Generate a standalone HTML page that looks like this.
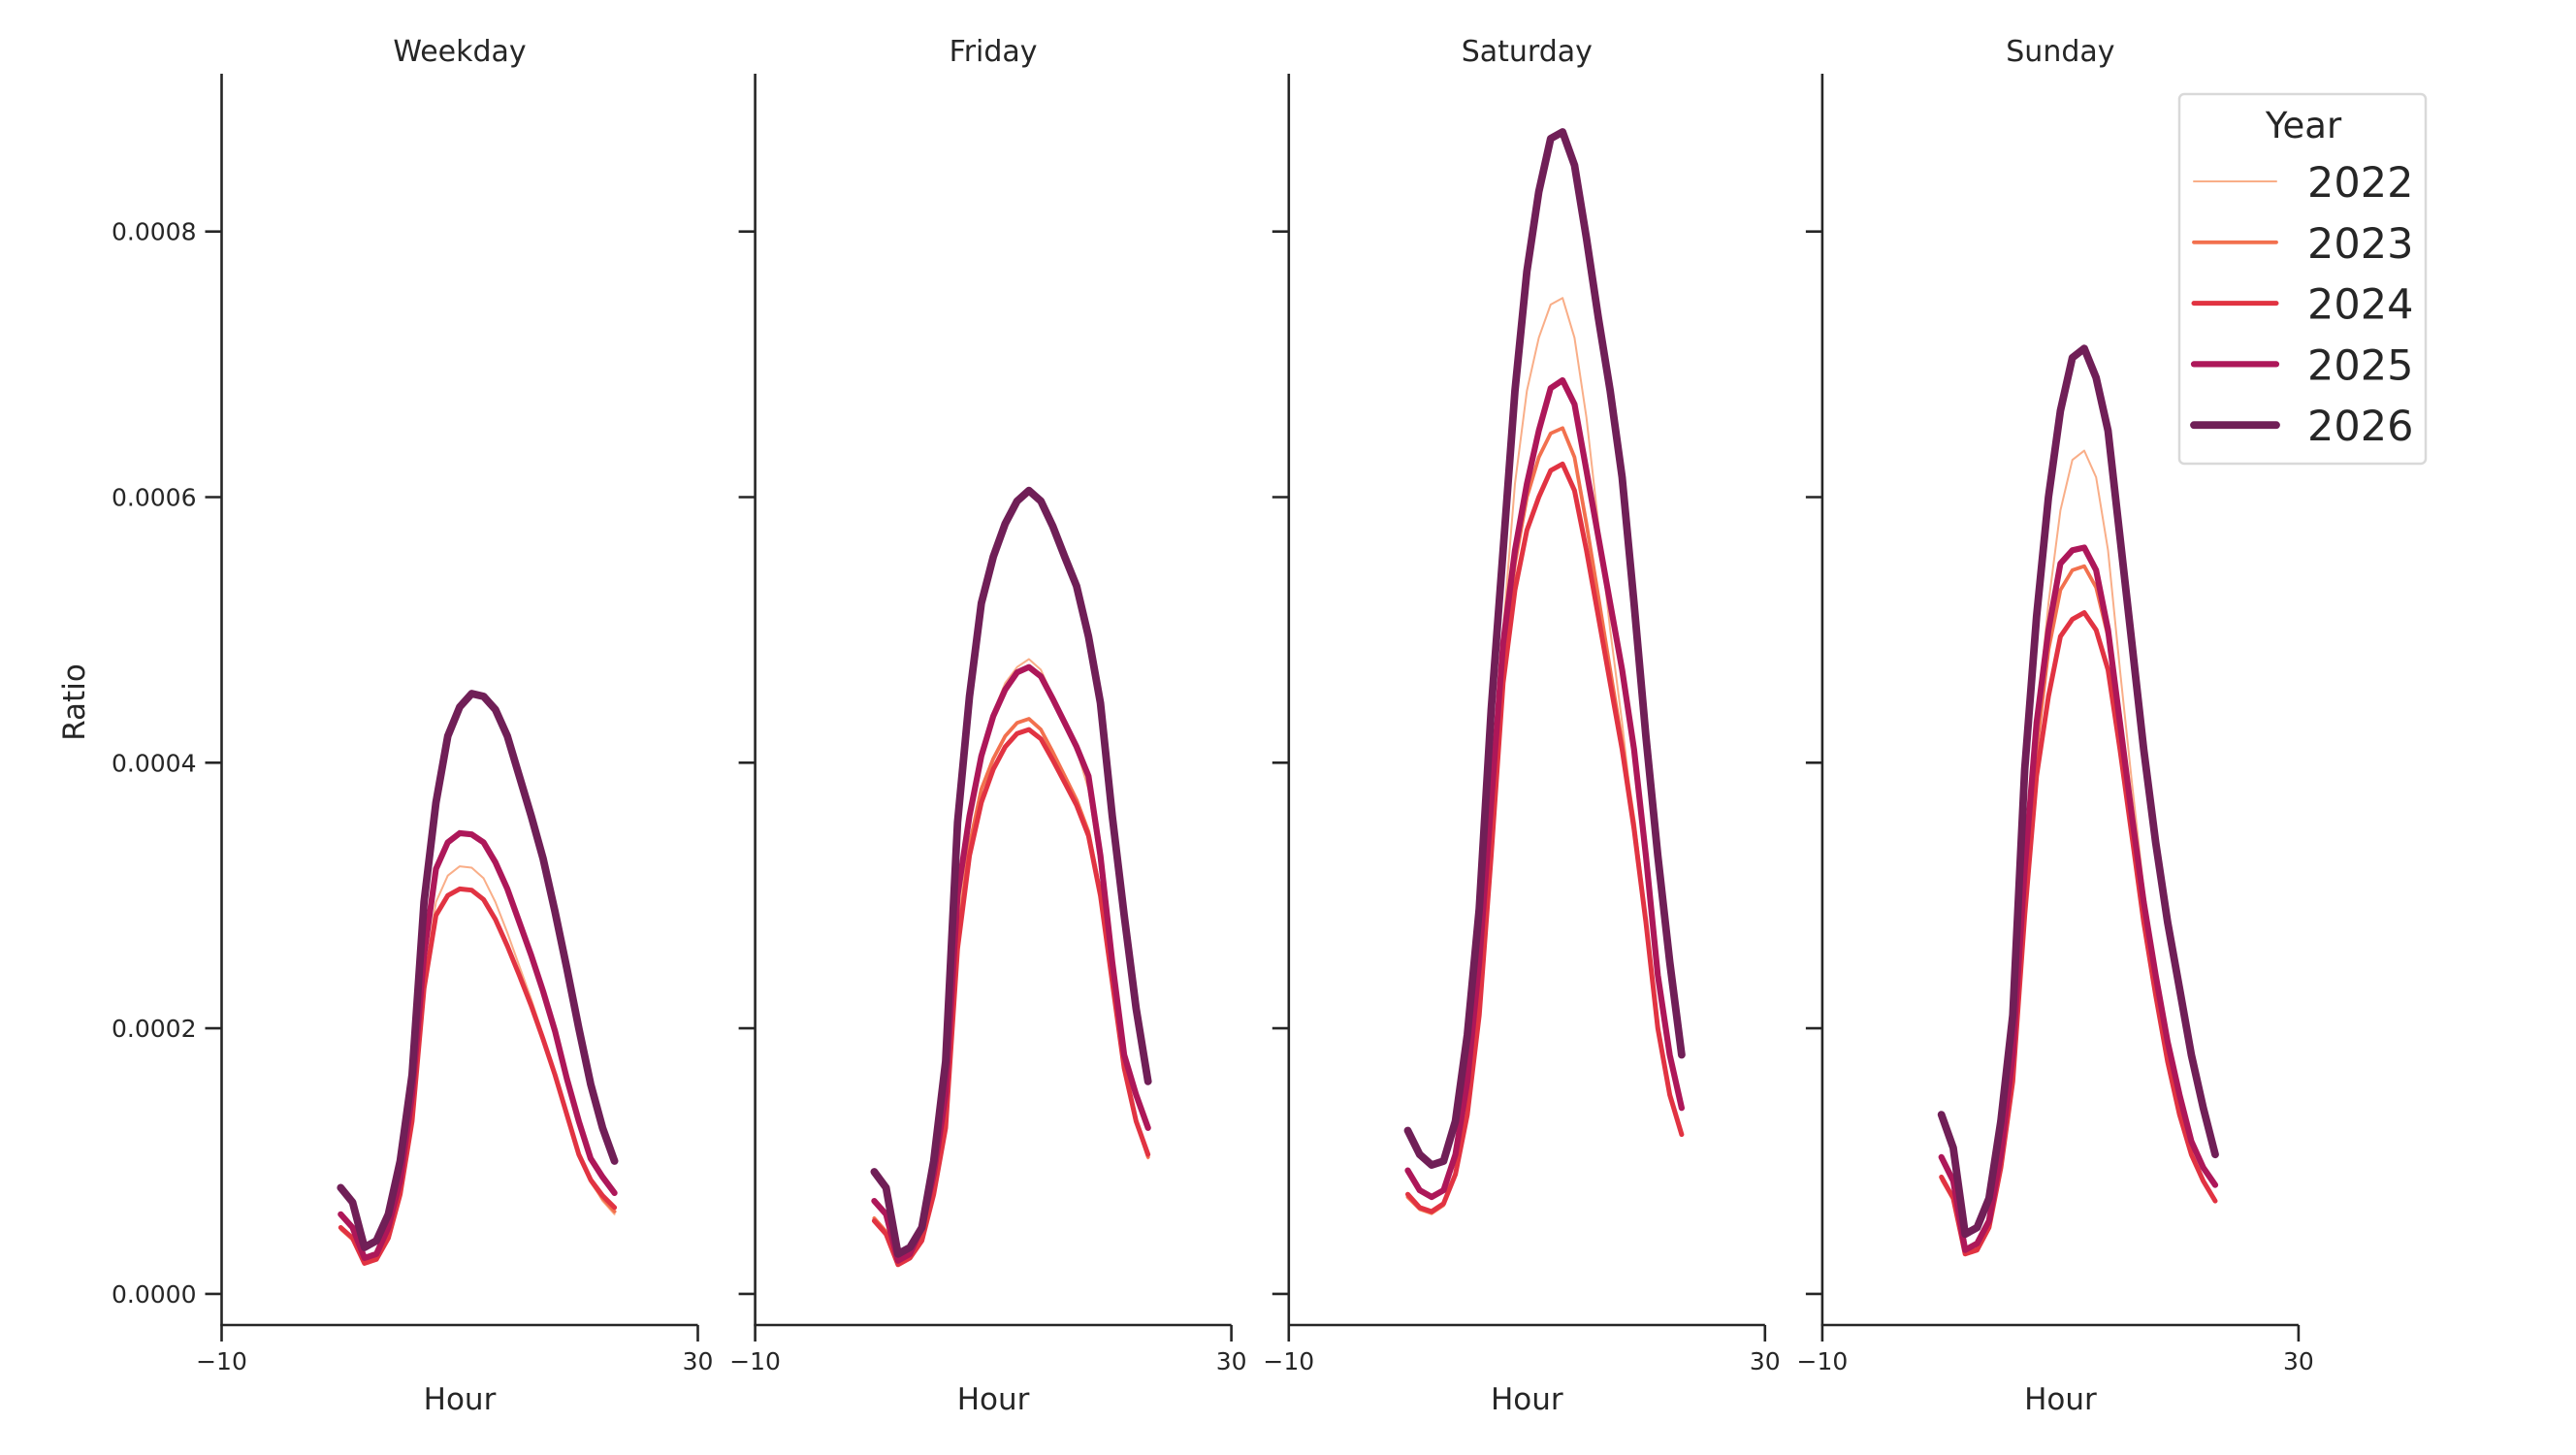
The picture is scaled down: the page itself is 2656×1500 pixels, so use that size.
<!DOCTYPE html>
<html><head><meta charset="utf-8"><style>
html,body{margin:0;padding:0;background:#fff;}
svg{display:block;font-family:"DejaVu Sans","Liberation Sans",sans-serif;}
</style></head><body>
<svg id="chart" width="2656" height="1500" viewBox="0 0 2656 1500" xmlns="http://www.w3.org/2000/svg"></svg>
<script>
const panels = ["Weekday","Friday","Saturday","Sunday"];
const years = ["2022","2023","2024","2025","2026"];
const hours = [0,1,2,3,4,5,6,7,8,9,10,11,12,13,14,15,16,17,18,19,20,21,22,23];
const yTicks = [0,0.0002,0.0004,0.0006,0.0008];
const yTickLabels = ["0.0000","0.0002","0.0004","0.0006","0.0008"];
const xTicks = [-10,30];
const xTickLabels = ["\u221210","30"];
// values in units of 1e-4
const weekday2022 = [0.48,0.4,0.22,0.25,0.4,0.72,1.3,2.35,2.95,3.15,3.22,3.21,3.13,2.95,2.72,2.47,2.22,1.95,1.66,1.35,1.05,0.85,0.7,0.6];
const weekday2023 = [0.5,0.42,0.23,0.26,0.42,0.74,1.3,2.3,2.85,3.0,3.05,3.04,2.97,2.82,2.62,2.4,2.17,1.92,1.65,1.35,1.05,0.85,0.72,0.62];
const weekday2024 = [0.5,0.42,0.23,0.26,0.42,0.75,1.3,2.3,2.85,3.0,3.05,3.04,2.97,2.82,2.62,2.4,2.17,1.92,1.65,1.35,1.05,0.86,0.74,0.65];
const weekday2025 = [0.6,0.5,0.27,0.3,0.5,0.85,1.5,2.55,3.2,3.4,3.47,3.46,3.4,3.25,3.05,2.8,2.55,2.28,1.98,1.62,1.3,1.02,0.88,0.76];
const weekday2026 = [0.8,0.69,0.35,0.4,0.6,1.0,1.65,2.95,3.7,4.2,4.42,4.52,4.5,4.4,4.2,3.9,3.6,3.28,2.88,2.45,2.0,1.58,1.25,1.0];
const friday2022 = [0.55,0.46,0.22,0.27,0.42,0.78,1.3,2.8,3.55,4.05,4.38,4.6,4.72,4.78,4.7,4.5,4.3,4.1,3.8,3.2,2.45,1.75,1.3,1.02];
const friday2023 = [0.57,0.47,0.23,0.28,0.41,0.76,1.27,2.65,3.38,3.8,4.03,4.2,4.3,4.33,4.25,4.08,3.9,3.72,3.48,3.02,2.35,1.7,1.3,1.03];
const friday2024 = [0.55,0.45,0.22,0.27,0.4,0.75,1.25,2.6,3.3,3.7,3.95,4.12,4.22,4.25,4.18,4.02,3.85,3.68,3.45,3.0,2.35,1.7,1.3,1.05];
const friday2025 = [0.7,0.6,0.25,0.3,0.5,0.9,1.5,3.0,3.6,4.05,4.35,4.55,4.68,4.72,4.65,4.48,4.3,4.12,3.9,3.3,2.5,1.8,1.5,1.25];
const friday2026 = [0.92,0.8,0.3,0.35,0.5,1.0,1.75,3.55,4.5,5.2,5.55,5.8,5.97,6.05,5.97,5.78,5.55,5.33,4.95,4.45,3.6,2.85,2.15,1.6];
const saturday2022 = [0.72,0.63,0.6,0.66,0.9,1.4,2.25,3.6,5.0,6.1,6.8,7.2,7.45,7.5,7.2,6.6,5.8,5.0,4.3,3.5,2.75,2.0,1.5,1.2];
const saturday2023 = [0.73,0.64,0.61,0.67,0.9,1.37,2.15,3.4,4.75,5.5,6.0,6.3,6.48,6.52,6.3,5.8,5.25,4.7,4.15,3.55,2.8,2.0,1.5,1.2];
const saturday2024 = [0.75,0.65,0.62,0.68,0.9,1.35,2.1,3.3,4.6,5.3,5.75,6.0,6.2,6.25,6.05,5.6,5.1,4.6,4.1,3.5,2.8,2.0,1.5,1.2];
const saturday2025 = [0.93,0.78,0.73,0.78,1.05,1.6,2.5,3.7,4.9,5.6,6.1,6.5,6.82,6.88,6.7,6.2,5.7,5.2,4.7,4.1,3.3,2.4,1.8,1.4];
const saturday2026 = [1.23,1.05,0.97,1.0,1.3,1.95,2.9,4.4,5.6,6.8,7.7,8.3,8.7,8.75,8.5,7.95,7.35,6.8,6.15,5.2,4.2,3.3,2.5,1.8];
const sunday2022 = [0.85,0.7,0.3,0.33,0.5,0.95,1.65,3.1,4.3,5.2,5.9,6.28,6.35,6.15,5.6,4.7,3.85,3.05,2.4,1.85,1.4,1.05,0.85,0.72];
const sunday2023 = [0.87,0.72,0.3,0.34,0.5,0.97,1.65,2.95,4.1,4.85,5.3,5.45,5.48,5.32,4.95,4.3,3.6,2.95,2.35,1.82,1.38,1.05,0.85,0.7];
const sunday2024 = [0.88,0.72,0.3,0.33,0.5,0.95,1.6,2.85,3.9,4.5,4.95,5.08,5.13,5.0,4.7,4.1,3.45,2.8,2.25,1.75,1.35,1.05,0.85,0.7];
const sunday2025 = [1.03,0.85,0.33,0.38,0.55,1.05,1.8,3.2,4.3,5.0,5.5,5.6,5.62,5.45,5.0,4.3,3.6,2.95,2.4,1.9,1.5,1.15,0.95,0.82];
const sunday2026 = [1.35,1.1,0.45,0.5,0.72,1.3,2.1,3.95,5.1,6.0,6.65,7.05,7.12,6.9,6.5,5.7,4.9,4.1,3.4,2.8,2.3,1.8,1.4,1.05];
const panelData = [
  [weekday2022,weekday2023,weekday2024,weekday2025,weekday2026],
  [friday2022,friday2023,friday2024,friday2025,friday2026],
  [saturday2022,saturday2023,saturday2024,saturday2025,saturday2026],
  [sunday2022,sunday2023,sunday2024,sunday2025,sunday2026]
];
const colors = ["#f9ae88","#f2704e","#e13342","#ad1759","#701f57"];
const widths = [2,3.8,5,6.2,7.8];

const NS = "http://www.w3.org/2000/svg";
const svg = document.getElementById("chart");
const panelLeft = [228.5,778.6,1328.8,1878.9];
const panelW = 491;
const yTop = 76, yBot = 1366;
function xScale(p, v){ return panelLeft[p] + (v + 10) / 40 * panelW; }
function yScale(v){ return 1333.9 - v / 0.0008 * (1333.9 - 238.7); }
function mk(tag, attrs, parent){
  const e = document.createElementNS(NS, tag);
  for (const k in attrs) e.setAttribute(k, attrs[k]);
  (parent || svg).appendChild(e);
  return e;
}
for (let p = 0; p < panels.length; p++) {
  const g = mk("g", {});
  
  
  const L = panelLeft[p];
  const t = mk("text", {x: L + panelW/2, y: 63, "text-anchor": "middle", "font-size": 30, fill: "#262626"}, g);
  t.textContent = panels[p];
  
  
  const ys = mk("line", {x1: L, y1: yTop, x2: L, y2: yBot, stroke: "#262626", "stroke-width": 2.6}, g);
  
  
  const xs = mk("line", {x1: L - 1.3, y1: yBot, x2: L + panelW, y2: yBot, stroke: "#262626", "stroke-width": 2.6}, g);
  
  
  for (let i = 0; i < yTicks.length; i++) {
    const yy = yScale(yTicks[i]);
    const tk = mk("line", {x1: L - 17, y1: yy, x2: L, y2: yy, stroke: "#262626", "stroke-width": 2.6}, g);
    
    
    if (p === 0) {
      const tl = mk("text", {x: L - 26, y: yy + 9, "text-anchor": "end", "font-size": 25, fill: "#262626"}, g);
      tl.textContent = yTickLabels[i];
      
      
    }
  }
  for (let i = 0; i < xTicks.length; i++) {
    const xx = xScale(p, xTicks[i]);
    const tk = mk("line", {x1: xx, y1: yBot, x2: xx, y2: yBot + 17, stroke: "#262626", "stroke-width": 2.6}, g);
    
    
    const tl = mk("text", {x: xx, y: yBot + 46, "text-anchor": "middle", "font-size": 25, fill: "#262626"}, g);
    tl.textContent = xTickLabels[i];
    
    
  }
  const xl = mk("text", {x: L + panelW/2, y: 1453, "text-anchor": "middle", "font-size": 31, fill: "#262626"}, g);
  xl.textContent = "Hour";
  
  
  for (let s = 0; s < years.length; s++) {
    const d = panelData[p][s].map((v, i) => (i ? "L" : "M") + xScale(p, hours[i]).toFixed(1) + "," + yScale(v * 1e-4).toFixed(1)).join(" ");
    const path = mk("path", {d: d, fill: "none", stroke: colors[s], "stroke-width": widths[s], "stroke-linejoin": "round", "stroke-linecap": "round"}, g);
    
    
  }
}
const yl = mk("text", {x: 0, y: 0, transform: "translate(87,724) rotate(-90)", "text-anchor": "middle", "font-size": 31, fill: "#262626"});
yl.textContent = "Ratio";


// legend
const lg = mk("g", {});


mk("rect", {x: 2247, y: 97, width: 254, height: 381, rx: 5, fill: "#fff", stroke: "#d9d9d9", "stroke-width": 2.5}, lg);
const lt = mk("text", {x: 2375, y: 142, "text-anchor": "middle", "font-size": 37, fill: "#262626"}, lg);
lt.textContent = "Year";


for (let s = 0; s < years.length; s++) {
  const cy = 187 + s * 62.8;
  const e = mk("g", {}, lg);
  
  
  mk("line", {x1: 2262, y1: cy, x2: 2347, y2: cy, stroke: colors[s], "stroke-width": widths[s], "stroke-linecap": "round"}, e);
  const tx = mk("text", {x: 2379, y: cy + 16, "font-size": 43, fill: "#262626"}, e);
  tx.textContent = years[s];
}
</script>
</body></html>
